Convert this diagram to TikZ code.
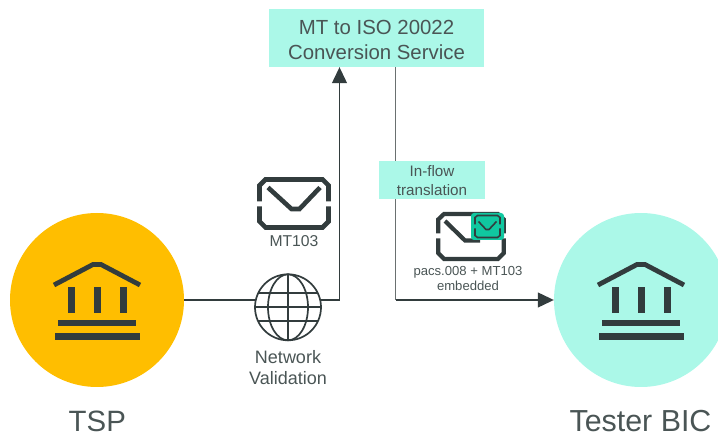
\documentclass[tikz,border=0pt]{standalone}
\usepackage{fontspec}
\setmainfont{Liberation Sans}
\usetikzlibrary{arrows.meta}
\definecolor{ink}{HTML}{323C3D}
\definecolor{txt}{HTML}{4A5555}
\definecolor{aqua}{HTML}{ABF8E8}
\definecolor{gold}{HTML}{FFBE00}
\definecolor{teal}{HTML}{10C8A0}
\definecolor{vline}{HTML}{6A7070}
\newcommand{\fs}[2]{\fontsize{#1}{#2}\selectfont}
\tikzset{
  disc/.style={circle,minimum size=174pt,inner sep=0pt},
  label box/.style={fill=aqua,inner sep=0pt,text=txt,align=center},
  caption/.style={text=txt,align=center,inner sep=0pt},
  conn/.style={draw=ink,line width=1.2pt},
  connv/.style={draw=vline,line width=1.5pt},
  tip/.style={-{Triangle[length=16pt,width=15pt]}},
  bank/.pic={
    \draw[ink,line width=4.8pt,miter limit=10] (-43,-15) -- (-4,-35.5) -- (4,-35.5) -- (43,-15);
    \fill[ink] (-29.3,-13.3) rectangle (-22.3,12.7);
    \fill[ink] (-3.5,-13.3) rectangle (3.5,12.7);
    \fill[ink] (22.5,-13.3) rectangle (29.5,12.7);
    \fill[ink] (-39,20) rectangle (39,26.5);
    \fill[ink] (-42,33) rectangle (43,40);
  },
  globe lines/.pic={
    \draw[ink,line width=1.7pt] (0,0) circle[radius=33];
    \draw[ink,line width=1.7pt] (0,0) ellipse[x radius=20,y radius=33];
    \draw[ink,line width=1.7pt] (0,-33) -- (0,33);
    \draw[ink,line width=1.7pt] (-33,0) -- (33,0);
    \draw[ink,line width=1.7pt] (-29.9,-14) -- (29.9,-14);
    \draw[ink,line width=1.7pt] (-29.9,14) -- (29.9,14);
  }
}
\begin{document}
\begin{tikzpicture}[x=1pt,y=-1pt]
\useasboundingbox (0,0) rectangle (718,435);
\clip (0,0) rectangle (718,435);
% discs and boxes
\node[disc,fill=gold] (tsp) at (97,300) {};
\node[disc,fill=aqua] (tester) at (641,300) {};
\node[fill=aqua,minimum width=215pt,minimum height=58pt,inner sep=0pt] (conv) at (376.5,38) {};
\node[caption,font=\fs{20.4}{25}] (convtext) at (376.5,39.5) {MT to ISO 20022\\Conversion Service};
\node[circle,minimum size=66pt,inner sep=0pt] (globe) at (288,307.3) {};
\coordinate (up) at (339.5,300);
\coordinate (dn) at (395.7,300);
% connectors
\draw[conn] (tsp.east) -- (globe.west |- tsp.east);
\draw[conn,tip] (globe.east |- tsp.east) -- (up) -- (up |- conv.south);
\draw[connv] (dn |- conv.south) -- (dn);
\draw[conn,tip] (dn) -- (tester.west);
% in-flow label over the line
\node[fill=aqua,minimum width=106pt,minimum height=38pt,inner sep=0pt] (inflow) at (432,180) {};
\node[caption,font=\fs{15.2}{19}] (inflowtext) at (432,180.8) {In-flow\\translation};
% bank icons
\pic at (tsp.center) {bank};
\pic at (tester.center) {bank};
% globe
\pic at (globe.center) {globe lines};
% MT103 envelope
\begin{scope}[shift={(294,203.5)}]
  \draw[ink,line width=4.6pt] (-34.5,-2) -- (-34.5,-18) -- (-28.5,-24) -- (28.5,-24) -- (34.5,-18) -- (34.5,-2);
  \draw[ink,line width=4.6pt] (-34.5,3) -- (-34.5,18) -- (-28.5,24) -- (28.5,24) -- (34.5,18) -- (34.5,3);
  \draw[ink,line width=4.6pt] (-26,-16) -- (-2.5,5.5) -- (5.5,5.5) -- (26,-16);
\end{scope}
% pacs.008 envelope
\begin{scope}[shift={(471,236.5)}]
  \draw[ink,line width=4.2pt] (-32.8,-3) -- (-32.8,-17) -- (-27,-22.5) -- (27,-22.5) -- (32.8,-17) -- (32.8,-3);
  \draw[ink,line width=4.2pt] (-32.8,2) -- (-32.8,16.5) -- (-27,22.5) -- (27,22.5) -- (32.8,16.5) -- (32.8,2);
  \draw[ink,line width=4.2pt] (-26,-15.5) -- (-6,4) -- (9,4);
\end{scope}
\fill[teal,rounded corners=3pt] (471,213) rectangle (504,240);
\begin{scope}[shift={(487.5,226.5)}]
  \draw[ink,line width=1.6pt] (-12.5,-2) -- (-12.5,-9) -- (-10,-11) -- (10,-11) -- (12.5,-9) -- (12.5,-2);
  \draw[ink,line width=1.6pt] (-12.5,2) -- (-12.5,9) -- (-10,11) -- (10,11) -- (12.5,9) -- (12.5,2);
  \draw[ink,line width=1.6pt] (-9,-5) -- (-1.5,3) -- (1.5,3) -- (9,-5);
\end{scope}
% captions
\node[caption,anchor=base,font=\fs{15.7}{19}] (mt) at (294,247) {MT103};
\node[caption,font=\fs{18}{21}] (net) at (288,368) {Network\\Validation};
\node[caption,font=\fs{13.1}{15}] (pacs) at (468,278) {pacs.008 + MT103\\embedded};
\node[caption,anchor=base,text depth=0pt,font=\fs{29.4}{34}] (tsplabel) at (97.3,432) {TSP};
\node[caption,anchor=base,text depth=0pt,font=\fs{30.4}{34}] (testerlabel) at (640.5,431.5) {Tester BIC};
\end{tikzpicture}
\end{document}
